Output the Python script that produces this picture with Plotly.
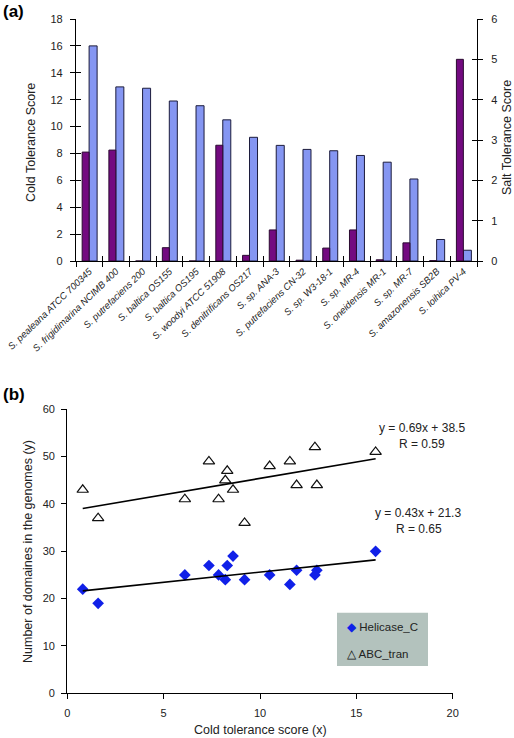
import plotly.graph_objects as go

# ---------------- data ----------------
strains = ["S. pealeana ATCC 700345", "S. frigidimarina NCIMB 400", "S. putrefaciens 200",
           "S. baltica OS155", "S. baltica OS195", "S. woodyi ATCC 51908",
           "S. denitrificans OS217", "S. sp. ANA-3", "S. putrefaciens CN-32",
           "S. sp. W3-18-1", "S. sp. MR-4", "S. oneidensis MR-1", "S. sp. MR-7",
           "S. amazonensis SB2B", "S. loihica PV-4"]
cold_score = [16.0, 12.95, 12.85, 11.9, 11.55, 10.5, 9.2, 8.6, 8.3, 8.2, 7.85, 7.35, 6.1, 1.6, 0.8]
salt_score = [2.7, 2.75, 0.0, 0.33, 0.0, 2.87, 0.14, 0.77, 0.02, 0.32, 0.77, 0.03, 0.45, 0.01, 5.0]

helicase_c = [30, 26, 25, 26, 23, 25, 24, 29, 27, 24, 25, 27, 25, 19, 22]
abc_tran = [51, 44, 52, 44, 49, 48, 36, 43, 47, 45, 41, 49, 41, 37, 43]

fit_abc = (0.69, 38.5, 0.59)     # slope, intercept, R
fit_hel = (0.43, 21.3, 0.65)

left_ticks = list(range(0, 19, 2))
right_ticks = list(range(0, 7))
bx_ticks = [0, 5, 10, 15, 20]
by_ticks = [0, 10, 20, 30, 40, 50, 60]

W, H = 514, 738
def px(x):
    return x / W
def py(y):
    return 1 - y / H

FONT = "Liberation Sans, Arial, sans-serif"
TXT = "#222222"
tickfont = dict(family=FONT, size=11, color=TXT)

fig = go.Figure()

# ---------------- panel (a) ----------------
fig.add_trace(go.Bar(x=strains, y=salt_score, yaxis="y2", xaxis="x",
                     width=0.26, offset=-0.27,
                     marker=dict(color="#730a80", line=dict(color="#2a0a30", width=1)),
                     showlegend=False, name="Salt"))
fig.add_trace(go.Bar(x=strains, y=cold_score, yaxis="y", xaxis="x",
                     width=0.3, offset=-0.01,
                     marker=dict(color="#8596f2", line=dict(color="#1c1c3c", width=1)),
                     showlegend=False, name="Cold"))
# invisible helpers for inner halves of the cross ticks
for xa, ya, xv in [("x3", "y", 0), ("x", "y3", strains[0]), ("x", "y4", strains[0])]:
    fig.add_trace(go.Scatter(x=[xv], y=[0], xaxis=xa, yaxis=ya, mode="markers",
                             marker=dict(opacity=0), hoverinfo="skip", showlegend=False))

# ---------------- panel (b) ----------------
fig.add_trace(go.Scatter(x=cold_score, y=abc_tran, xaxis="x2", yaxis="y5", mode="markers",
                         marker=dict(symbol="triangle-up-open", size=10, color="#111111",
                                     line=dict(width=1.2)),
                         showlegend=False, name="ABC_tran"))
fig.add_trace(go.Scatter(x=cold_score, y=helicase_c, xaxis="x2", yaxis="y5", mode="markers",
                         marker=dict(symbol="diamond", size=9, color="#1020e8"),
                         showlegend=False, name="Helicase_C"))
xs = [min(cold_score), max(cold_score)]
for s, b, r in [fit_abc, fit_hel]:
    fig.add_trace(go.Scatter(x=xs, y=[s * v + b for v in xs], xaxis="x2", yaxis="y5",
                             mode="lines", line=dict(color="black", width=1.6),
                             showlegend=False, hoverinfo="skip"))

axcommon = dict(showgrid=False, zeroline=False, showline=True, linecolor="black",
                linewidth=1.3, tickcolor="black", tickwidth=1.3, automargin=False)
dummy = dict(tickwidth=1.3, tickcolor="black", showticklabels=False, showline=False,
             showgrid=False, zeroline=False, automargin=False, ticks="inside", ticklen=5)

top_x = [px(76), px(477)]
top_y = [py(261), py(19)]
bot_x = [px(67.3), px(452.7)]
bot_y = [py(693.3), py(409.3)]

fig.update_layout(
    width=W, height=H, margin=dict(l=0, r=0, t=0, b=0, autoexpand=False),
    paper_bgcolor="white", plot_bgcolor="rgba(0,0,0,0)",
    barmode="overlay",
    xaxis=dict(**axcommon, domain=top_x, anchor="y", type="category",
               range=[-0.5, len(strains) - 0.5], ticks="outside", ticklen=5,
               tickson="boundaries", tickangle=-44,
               tickfont=dict(family=FONT, size=9.5, color=TXT, style="italic")),
    yaxis=dict(**axcommon, tickfont=tickfont, domain=top_y, anchor="x", range=[0, 18],
               tickvals=left_ticks, ticks="outside", ticklen=5, ticklabelstandoff=5),
    yaxis2=dict(**axcommon, tickfont=tickfont, overlaying="y", side="right", anchor="x",
                range=[0, 6], tickvals=right_ticks, ticks="outside", ticklen=5,
                ticklabelstandoff=6),
    xaxis3=dict(**dummy, overlaying="x", anchor="y", range=[-0.5, len(strains) - 0.5],
                tickvals=[i - 0.5 for i in range(len(strains) + 1)]),
    yaxis3=dict(**dummy, overlaying="y", side="left", anchor="x", range=[0, 18],
                tickvals=left_ticks),
    yaxis4=dict(**dummy, overlaying="y", side="right", anchor="x", range=[0, 6],
                tickvals=right_ticks),
    xaxis2=dict(**axcommon, tickfont=tickfont, domain=bot_x, anchor="y5", range=[0, 20],
                tickvals=bx_ticks, ticks="outside", ticklen=5, ticklabelstandoff=4),
    yaxis5=dict(**axcommon, tickfont=tickfont, domain=bot_y, anchor="x2", range=[0, 60],
                tickvals=by_ticks, ticks="outside", ticklen=5, ticklabelstandoff=4),
)

ann = []
def text(x, y, s, size=12.5, angle=0, xanchor="center", bold=False):
    ann.append(dict(x=px(x), y=py(y), xref="paper", yref="paper", text=s,
                    showarrow=False, textangle=angle, xanchor=xanchor, yanchor="middle",
                    font=dict(family=FONT, size=size, color=TXT if not bold else "black",
                              weight="bold" if bold else "normal")))

text(1, 12, "(a)", size=17, xanchor="left", bold=True)
text(1, 394, "(b)", size=17, xanchor="left", bold=True)
text(31, 143, "Cold Tolerance Score", angle=-90)
text(507, 138, "Salt Tolerance Score", angle=-90)
text(28, 552, "Number of domaines in the genomes (y)", angle=-90)
text(260, 730, "Cold tolerance score (x)")
text(421.5, 428, f"y = {fit_abc[0]}x + {fit_abc[1]}", size=12)
text(421.5, 444, f"R = {fit_abc[2]}", size=12)
text(418, 513, f"y = {fit_hel[0]}x + {fit_hel[1]}", size=12)
text(419, 529, f"R = {fit_hel[2]}", size=12)
text(345, 627, '<span style="color:#1020e8">◆</span> Helicase_C', size=11.5, xanchor="left")
text(345, 654, '<span style="color:#111">△</span> ABC_tran', size=11.5, xanchor="left")
fig.update_layout(annotations=ann)

fig.add_shape(type="rect", xref="paper", yref="paper", x0=px(337), x1=px(428),
              y0=py(666), y1=py(612.7), fillcolor="#b3c2bd", line=dict(width=0), layer="below")

fig.write_html("out.html", config={"displayModeBar": False},
               post_script="document.body.style.margin='0';document.body.style.overflow='hidden';")
